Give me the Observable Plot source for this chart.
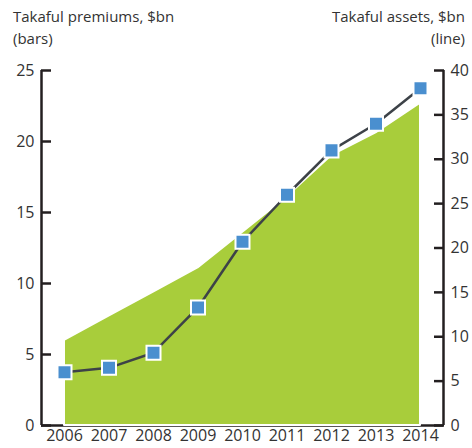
<!DOCTYPE html>
<html>
<head>
<meta charset="utf-8">
<script src="https://cdn.jsdelivr.net/npm/d3@7"></script>
<script src="https://cdn.jsdelivr.net/npm/@observablehq/plot@0.6"></script>
<style>
  html, body { margin: 0; padding: 0; background: #fff; }
  #wrap { width: 472px; font-family: "Open Sans", sans-serif; color: #333; }
  #head { position: relative; height: 56px; font-size: 15px; line-height: 22px; }
  #lt { position: absolute; left: 13px; top: 5px; }
  #rt { position: absolute; right: 7px; top: 5px; text-align: right; }
  svg { display: block; }
</style>
</head>
<body>
<div id="wrap">
  <div id="head">
    <div id="lt">Takaful premiums, $bn<br>(bars)</div>
    <div id="rt">Takaful assets, $bn<br>(line)</div>
  </div>
  <div id="chart"></div>
</div>
<script>
const years = [2006, 2007, 2008, 2009, 2010, 2011, 2012, 2013, 2014];
const premiums = [6.0, 7.7, 9.4, 11.1, 13.6, 16.1, 19.0, 20.6, 22.7];
const assets = [6.0, 6.5, 8.2, 13.3, 20.7, 26.0, 31.0, 34.0, 38.0];
const leftTicks = [0, 5, 10, 15, 20, 25];
const rightTicks = [0, 5, 10, 15, 20, 25, 30, 35, 40];

const leftMax = 25, rightMax = 40;
const k = leftMax / rightMax; // map right axis onto left scale
const xDomain = [2005.483, 2014.517];

const data = years.map((y, i) => ({year: y, premium: premiums[i], asset: assets[i]}));

const axisColor = "#231f20";
const chart = Plot.plot({
  width: 472,
  height: 392,
  marginLeft: 41,
  marginRight: 29,
  marginTop: 14,
  marginBottom: 23,
  style: {fontFamily: "Open Sans, sans-serif", fontSize: "16px", color: "#333"},
  x: {domain: xDomain, axis: null},
  y: {domain: [0, leftMax], axis: null},
  marks: [
    Plot.ruleX([xDomain[0]], {y1: 0, y2: leftMax, stroke: axisColor, strokeWidth: 2.5}),
    Plot.ruleX([xDomain[1]], {y1: 0, y2: leftMax, stroke: axisColor, strokeWidth: 2.5}),
    Plot.ruleY([0], {stroke: axisColor, strokeWidth: 2.5}),
    Plot.axisY(leftTicks, {anchor: "left", label: null, tickSize: -10, tickPadding: 17, stroke: axisColor, strokeWidth: 2.5, fill: "#333"}),
    Plot.axisY(rightTicks.map(v => v * k), {anchor: "right", label: null, tickSize: -10, tickPadding: 17, tickFormat: d => Math.round(d / k), stroke: axisColor, strokeWidth: 2.5, fill: "#333"}),
    Plot.axisX(years, {anchor: "bottom", label: null, tickSize: 0, tickPadding: 4, tickFormat: d => String(d), fill: "#333"}),
    Plot.areaY(data, {x: "year", y: "premium", fill: "#a8cd3b", stroke: "#fff", strokeWidth: 2}),
    Plot.line(data, {x: "year", y: d => d.asset * k, stroke: "#3d4248", strokeWidth: 2.5}),
    Plot.dot(data, {x: "year", y: d => d.asset * k, symbol: "square", r: 7.9, fill: "#4a8fcf", stroke: "#fff", strokeWidth: 2})
  ]
});
document.getElementById("chart").appendChild(chart);
</script>
</body>
</html>
